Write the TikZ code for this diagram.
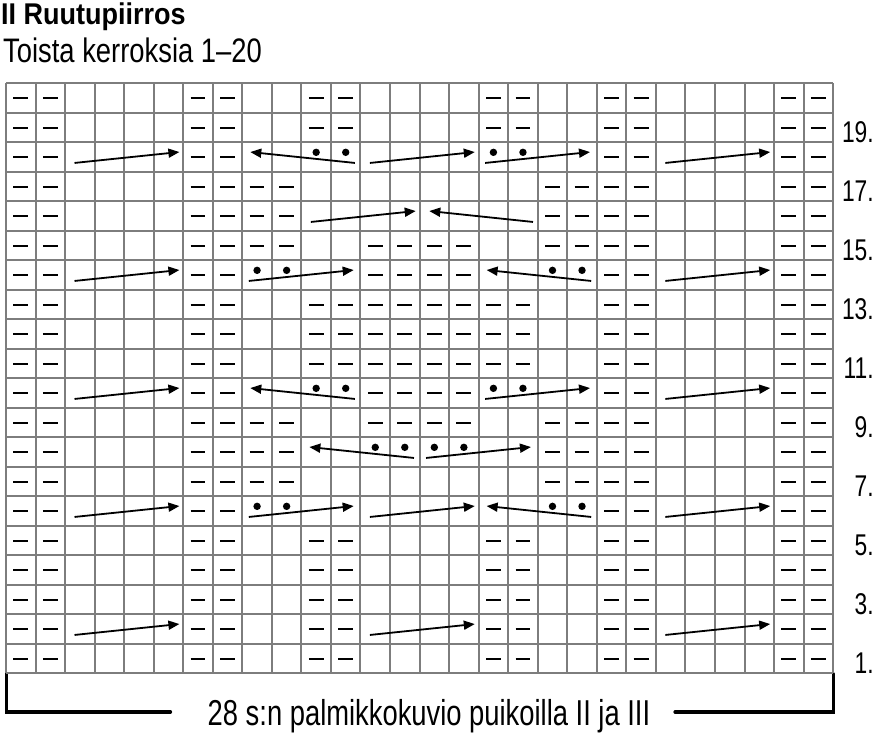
\documentclass[tikz,border=0pt]{standalone}
\usepackage{fontspec}
\setmainfont{Liberation Sans}[FakeStretch=0.76]
\newfontfamily\titlefont{Liberation Sans}[FakeStretch=0.9]
\newfontfamily\subfont{Liberation Sans}[FakeStretch=0.805]
\usetikzlibrary{arrows.meta}
\definecolor{gridgray}{RGB}{125,125,125}
\tikzset{
  gridline/.style={gridgray, line width=2pt},
  purl/.style={black, line width=2pt},
  cable/.style={black, line width=1.8pt, -{Triangle[length=11pt,width=9pt]}},
  bracketline/.style={black, line width=3.2pt, line cap=round},
  rowlabel/.style={anchor=base east, inner sep=0pt, font=\fontsize{30}{34}\selectfont},
}
% purl dashes in row t (from top), columns #2
\newcommand\pdash[2]{\foreach \col in {#2}{\draw[purl] (\col-0.75,#1-0.5) -- (\col-0.25,#1-0.5);}}
% cable arrows: #1 = first column of the 4 stitches, #2 = row from top
\newcommand\rarr[2]{\draw[cable] (#1-0.68,#2-0.3) -- (#1+2.87,#2-0.67);}
\newcommand\larr[2]{\draw[cable] (#1+2.84,#2-0.3) -- (#1-0.67,#2-0.67);}
\newcommand\rdarr[2]{\draw[cable] (#1-0.78,#2-0.3) -- (#1+2.77,#2-0.67);
  \fill (#1-0.5,#2-0.66) circle[radius=3.7pt] (#1+0.5,#2-0.66) circle[radius=3.7pt];}
\newcommand\ldarr[2]{\draw[cable] (#1+2.81,#2-0.3) -- (#1-0.73,#2-0.67);
  \fill (#1+1.5,#2-0.66) circle[radius=3.7pt] (#1+2.5,#2-0.66) circle[radius=3.7pt];}
\begin{document}
\begin{tikzpicture}[x=1pt,y=-1pt]
\useasboundingbox (0,0) rectangle (875,733);
\node[anchor=base west, inner sep=0pt, font=\titlefont\bfseries\fontsize{30}{34}\selectfont] (title) at (1,25) {II Ruutupiirros};
\node[anchor=base west, inner sep=0pt, font=\subfont\fontsize{34}{38}\selectfont] (subtitle) at (3,63) {Toista kerroksia 1–20};
\node[anchor=base, inner sep=0pt, font=\fontsize{36}{40}\selectfont] (caption) at (429,725) {28 s:n palmikkokuvio puikoilla II ja III};
\coordinate (bl1) at (170.5,712);
\coordinate (bl2) at (6.5,712);
\coordinate (bl3) at (6.5,673.5);
\coordinate (br1) at (675,712);
\coordinate (br2) at (833.5,712);
\coordinate (br3) at (833.5,673.5);
\draw[bracketline, line join=miter] (bl1) -- (bl2) -- (bl3);
\draw[bracketline, line join=miter] (br1) -- (br2) -- (br3);
\begin{scope}[shift={(6,83.3)}, x=29.54pt, y=-29.5pt]
  \foreach \i in {0,...,28}{\draw[gridline] (\i,0) -- (\i,20);}
  \foreach \j in {0,...,20}{\draw[gridline] (0,\j) -- (28,\j);}
  % row labels
  \foreach \r in {1,3,...,19}{\node[rowlabel] (lab\r) at (29.38,21-\r) {\r.};}
  % rows, t = 21 - row number
  \foreach \t in {1,2,16,17,18,19,20}{\pdash{\t}{1,2,7,8,11,12,17,18,21,22,27,28}}
  \foreach \t in {3,15}{\pdash{\t}{1,2,7,8,21,22,27,28}}
  \foreach \t in {4,5,13,14}{\pdash{\t}{1,2,7,8,9,10,19,20,21,22,27,28}}
  \foreach \t in {6,12}{\pdash{\t}{1,2,7,8,9,10,13,14,15,16,19,20,21,22,27,28}}
  \foreach \t in {7,11}{\pdash{\t}{1,2,7,8,13,14,15,16,21,22,27,28}}
  \foreach \t in {8,9,10}{\pdash{\t}{1,2,7,8,11,12,13,14,15,16,17,18,21,22,27,28}}
  % row 18
  \rarr{3}{3} \ldarr{9}{3} \rarr{13}{3} \rdarr{17}{3} \rarr{23}{3}
  % row 16
  \rarr{11}{5} \larr{15}{5}
  % row 14
  \rarr{3}{7} \rdarr{9}{7} \ldarr{17}{7} \rarr{23}{7}
  % row 10
  \rarr{3}{11} \ldarr{9}{11} \rdarr{17}{11} \rarr{23}{11}
  % row 8
  \ldarr{11}{13} \rdarr{15}{13}
  % row 6
  \rarr{3}{15} \rdarr{9}{15} \rarr{13}{15} \ldarr{17}{15} \rarr{23}{15}
  % row 2
  \rarr{3}{19} \rarr{13}{19} \rarr{23}{19}
\end{scope}
\end{tikzpicture}
\end{document}
